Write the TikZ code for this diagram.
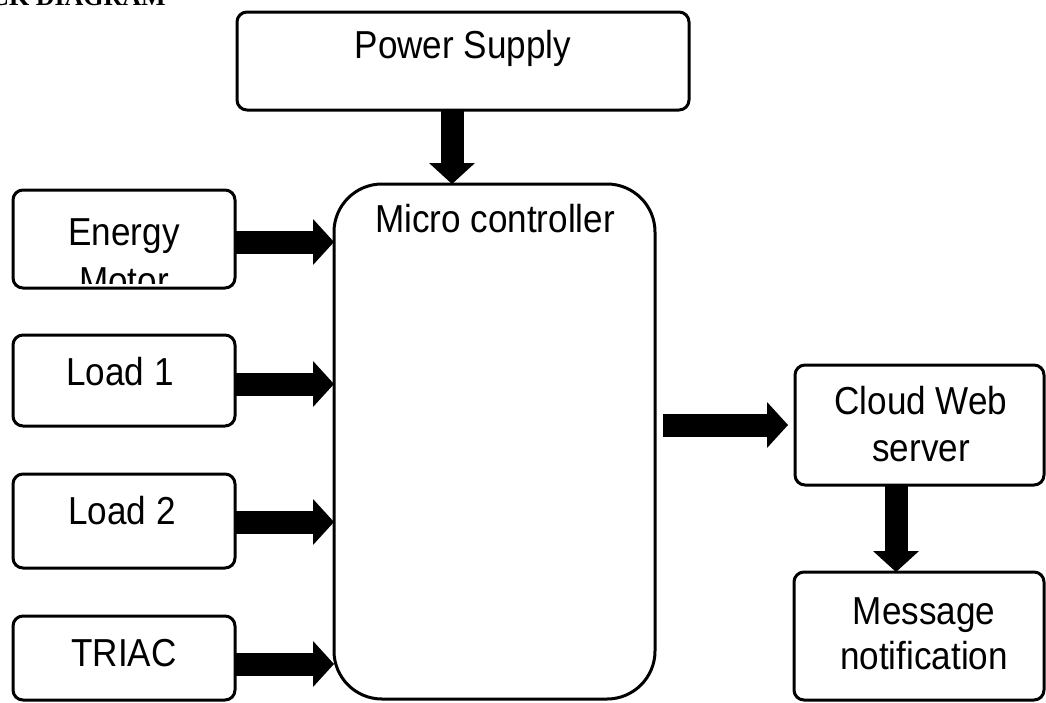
\documentclass[tikz,border=0pt]{standalone}
\usepackage{fontspec}
\setmainfont{Liberation Sans}[FakeStretch=0.9]
\newfontfamily\titlefont{Liberation Serif}
\usetikzlibrary{arrows.meta}
\tikzset{
  box/.style={draw, line width=3pt, rounded corners=10pt, inner sep=0pt, outer sep=0pt, fill=white},
  lbl/.style={anchor=base, inner sep=0pt, font=\fontsize{39}{45}\selectfont},
  blk/.style={line width=23pt, -{Triangle[length=21pt,width=46pt,line width=0pt]}},
}
\begin{document}
\begin{tikzpicture}[x=1pt,y=-1pt]
\useasboundingbox (0,0) rectangle (1046,702);
\fill[white] (0,0) rectangle (1046,702);
% title
\node[anchor=base east, inner sep=0pt, font=\titlefont\bfseries\fontsize{26}{30}\selectfont] (title) at (166,5) {BLOCK DIAGRAM};
% boxes
\node[box, minimum width=452pt, minimum height=98pt] (power) at (463,61) {};
\node[box, rounded corners=48pt, minimum width=321pt, minimum height=515pt] (mc) at (494.5,441.5) {};
\node[box, minimum width=222pt, minimum height=98pt] (energy) at (124,239) {};
\node[box, minimum width=222pt, minimum height=91pt] (load1) at (124,380.5) {};
\node[box, minimum width=222pt, minimum height=94pt] (load2) at (124,521) {};
\node[box, minimum width=222pt, minimum height=84pt] (triac) at (124,658) {};
\node[box, minimum width=249pt, minimum height=120pt] (cloud) at (919.5,425) {};
\node[box, minimum width=250pt, minimum height=128pt] (msg) at (919,636) {};
% texts
\node[lbl] (tpower) at (463,58) {Power Supply};
\node[lbl] (tmc) at (495,232) {Micro controller};
\begin{scope}
  \clip ([shift={(1.5pt,-1.5pt)}]energy.north west) rectangle ([shift={(-1.5pt,5pt)}]energy.south east);
  \node[lbl] (tenergy) at (124,245) {Energy};
  \node[lbl] (tmotor) at (124,294) {Motor};
\end{scope}
\node[lbl] (tload1) at (120,385) {Load 1};
\node[lbl] (tload2) at (122,524) {Load 2};
\node[lbl] (ttriac) at (124,666) {TRIAC};
\node[lbl] (tcloud) at (921,414) {Cloud Web};
\node[lbl] (tserver) at (921,461) {server};
\node[lbl] (tmessage) at (924,624) {Message};
\node[lbl] (tnotif) at (924,669) {notification};
% arrows
\draw[blk] ([xshift=-11pt]power.south) -- ([xshift=-11pt]power.south |- mc.north);
\draw[blk] ([yshift=-3pt]energy.east) -- ([yshift=-3pt]energy.east -| mc.west);
\draw[blk] ([yshift=-3.5pt]load1.east) -- ([yshift=-3.5pt]load1.east -| mc.west);
\draw[blk] ([yshift=-1pt]load2.east) -- ([yshift=-1pt]load2.east -| mc.west);
\draw[blk] ([yshift=-6pt]triac.east) -- ([yshift=-6pt]triac.east -| mc.west);
\draw[blk, shorten <=8pt, shorten >=7pt] (mc.east |- cloud.west) -- (cloud.west);
\draw[blk] ([xshift=-23.5pt]cloud.south) -- ([xshift=-23.5pt]cloud.south |- msg.north);
\end{tikzpicture}
\end{document}
